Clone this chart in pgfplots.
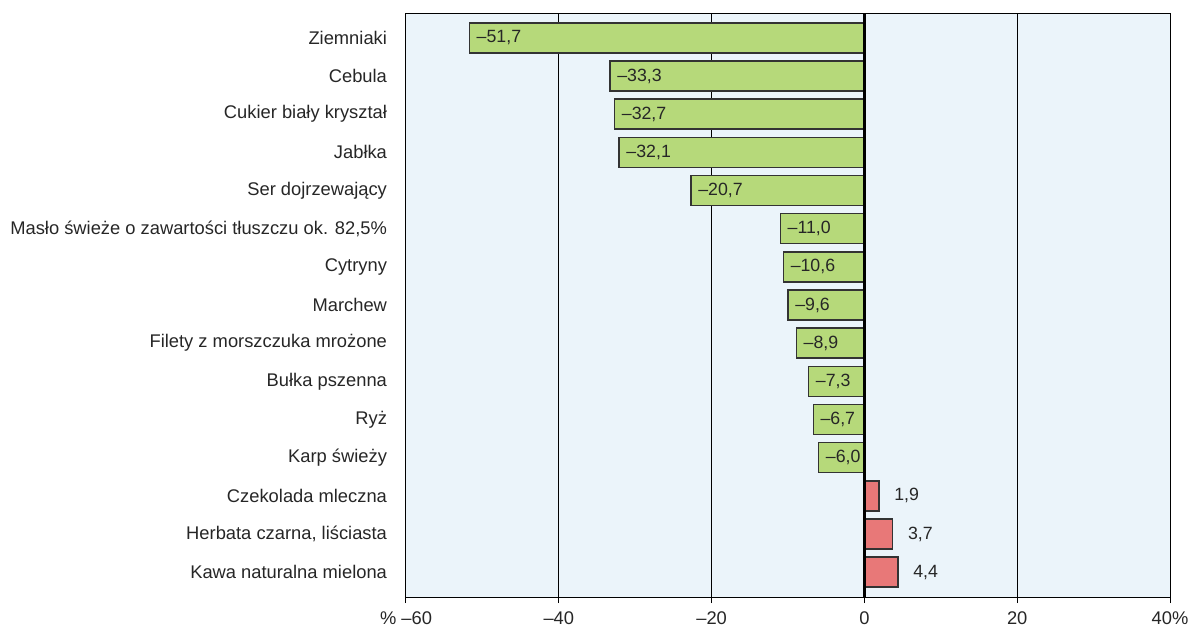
\documentclass[border=0pt]{standalone}
\usepackage{pgfplots}
\pgfplotsset{compat=1.18}
\usepackage{pgfplotstable}
\usepackage{fontspec}
\setmainfont{Liberation Sans}
\definecolor{bgblue}{HTML}{EBF4FA}
\definecolor{bargreen}{HTML}{B6D97A}
\definecolor{barred}{HTML}{E87878}
\definecolor{edge}{HTML}{333333}
\pgfplotstableread{
x y lab
-51.7 1 –51,7
-33.3 2 –33,3
-32.7 3 –32,7
-32.1 4 –32,1
-22.7 5 –20,7
-11.0 6 –11,0
-10.6 7 –10,6
-10.0 8 –9,6
-8.9 9 –8,9
-7.3 10 –7,3
-6.7 11 –6,7
-6.0 12 –6,0
}\negdata
\pgfplotstableread{
x y lab
1.9 13 1,9
3.7 14 3,7
4.4 15 4,4
}\posdata
\begin{document}
\begin{tikzpicture}
\useasboundingbox (-203bp,-19bp) rectangle (396bp,298.5bp);
\begin{axis}[
  scale only axis,
  width=382bp, height=292bp,
  xmin=-60, xmax=40,
  ymin=0.35, ymax=15.65,
  y dir=reverse,
  axis background/.style={fill=bgblue},
  axis line style={black, line width=0.5pt},
  xtick={-60,-40,-20,0,20,40},
  xticklabels={\%~–60,–40,–20,0,20,40\%},
  xmajorgrids,
  major grid style={black, line width=0.5pt},
  tick align=outside,
  major tick length=3bp,
  xtick pos=bottom,
  x tick style={black, line width=0.5pt},
  ytick={1,...,15},
  yticklabels={Ziemniaki,Cebula,Cukier biały kryształ,Jabłka,Ser dojrzewający,Masło świeże o zawartości tłuszczu ok. 82{,}5\%,Cytryny,Marchew,Filety z morszczuka mrożone,Bułka pszenna,Ryż,Karp świeży,Czekolada mleczna,{Herbata czarna, liściasta},Kawa naturalna mielona},
  y tick style={draw=none},
  tick label style={font=\fontsize{9.2}{11}\selectfont, text=black!85},
  yticklabel style={xshift=-3bp},
  xticklabel style={yshift=-1bp},
  xbar, bar width=15bp, bar shift=0pt,
  clip=false,
  point meta=explicit symbolic,
  nodes near coords={\pgfplotspointmeta},
  nodes near coords style={font=\fontsize{8.9}{10}\selectfont, text=black!85, anchor=west},
]
\addplot[draw=edge, fill=bargreen, line width=0.7pt, bar shift=0pt,
  nodes near coords style={xshift=0bp}]
  table[x=x, y=y, meta=lab] {\negdata};
\addplot[draw=edge, fill=barred, line width=0.7pt, bar shift=0pt,
  nodes near coords style={xshift=4bp}]
  table[x=x, y=y, meta=lab] {\posdata};
\draw[black, line width=1.2pt] (axis cs:0,0.35) -- (axis cs:0,15.65);
\end{axis}
\end{tikzpicture}
\end{document}
